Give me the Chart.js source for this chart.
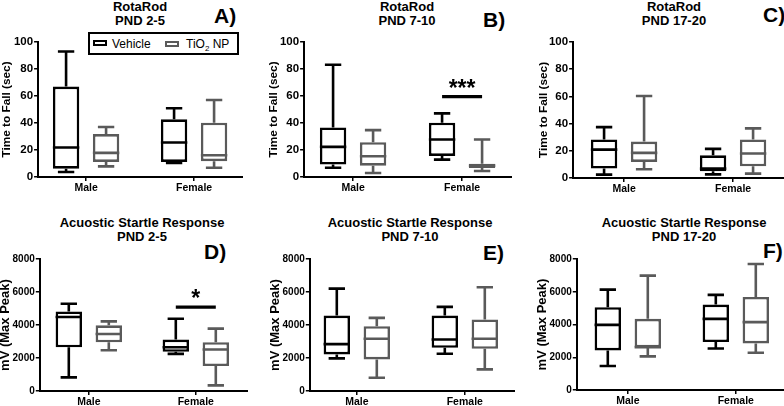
<!DOCTYPE html>
<html>
<head>
<meta charset="utf-8">
<script src="https://cdn.jsdelivr.net/npm/chart.js@4.4.1/dist/chart.umd.min.js"></script>
<style>
html,body{margin:0;padding:0;background:#fff;}
body{width:784px;height:406px;overflow:hidden;position:relative;font-family:"Liberation Sans",Arial,sans-serif;color:#000;}
canvas{position:absolute;}
.title{position:absolute;font-weight:bold;font-size:13px;line-height:14px;text-align:center;white-space:nowrap;transform:translateX(-50%);}
.letter{position:absolute;font-weight:bold;font-size:21px;line-height:21px;}
.legend{position:absolute;border:2.5px solid #000;box-sizing:border-box;background:#fff;}
.legend .ico{position:absolute;box-sizing:border-box;width:14px;height:6px;}
.legend .txt{position:absolute;font-size:12px;line-height:12px;white-space:nowrap;}
</style>
</head>
<body>
<div class="title" style="left:140px;top:-0.5px;">RotaRod<br>PND 2-5</div>
<div class="title" style="left:407px;top:-0.5px;">RotaRod<br>PND 7-10</div>
<div class="title" style="left:674px;top:-0.5px;">RotaRod<br>PND 17-20</div>
<div class="title" style="left:142px;top:216px;">Acuostic Startle Response<br>PND 2-5</div>
<div class="title" style="left:410px;top:216px;">Acuostic Startle Response<br>PND 7-10</div>
<div class="title" style="left:684px;top:216px;">Acuostic Startle Response<br>PND 17-20</div>
<div class="letter" style="left:214px;top:5px;">A)</div>
<div class="letter" style="left:483px;top:9px;">B)</div>
<div class="letter" style="left:763px;top:4px;">C)</div>
<div class="letter" style="left:204px;top:241px;">D)</div>
<div class="letter" style="left:483px;top:242px;">E)</div>
<div class="letter" style="left:763px;top:240px;">F)</div>
<div class="legend" id="legend" style="left:88px;top:32px;width:151px;height:23px;">
  <div class="ico" id="ico0" style="left:3px;top:6px;border:2.5px solid #000;"></div>
  <div class="txt" id="txt0" style="left:22px;top:3.5px;"></div>
  <div class="ico" id="ico1" style="left:75px;top:6.5px;border:2px solid #5a5a5a;"></div>
  <div class="txt" id="txt1" style="left:96px;top:3.5px;"></div>
</div>
<script>
// ---------- DATA ----------
const categories = ['Male', 'Female'];
const seriesNames = ['Vehicle', 'TiO<sub style="font-size:8px;line-height:0">2</sub> NP'];
// each entry: [min, Q1, median, Q3, max]  (Male, Female)
const rotarodPND2_5_vehicle  = [[3.7, 6.2, 21.8, 67.0, 93.0], [10.4, 11.2, 25.6, 42.7, 50.9]];
const rotarodPND2_5_tio2     = [[7.9, 11.2, 17.9, 31.8, 37.0], [6.9, 11.7, 16.1, 40.2, 57.0]];
const rotarodPND7_10_vehicle = [[6.9, 9.2, 22.3, 36.7, 83.1], [12.9, 15.6, 27.8, 40.2, 47.1]];
const rotarodPND7_10_tio2    = [[3.0, 8.4, 15.4, 25.8, 34.7], [4.5, 6.7, 8.4, 9.9, 27.8]];
const rotarodPND17_20_vehicle= [[2.5, 6.9, 20.9, 28.3, 37.4], [2.7, 4.9, 6.9, 16.7, 21.4]];
const rotarodPND17_20_tio2   = [[6.4, 11.8, 18.5, 26.8, 60.3], [3.2, 8.6, 18.0, 28.3, 36.5]];
const startlePND2_5_vehicle  = [[824, 2653, 4482, 4824, 5286], [2251, 2372, 2653, 3116, 4382]];
const startlePND2_5_tio2     = [[2472, 2955, 3457, 3980, 4221], [342, 1508, 2513, 2955, 3779]];
const startlePND7_10_vehicle = [[1975, 2217, 2841, 4574, 6207], [2257, 2620, 3123, 4574, 5098]];
const startlePND7_10_tio2    = [[806, 1914, 3164, 3930, 4433], [1310, 2559, 3164, 4332, 6287]];
const startlePND17_20_vehicle= [[1462, 2416, 3980, 5056, 6132], [2538, 2924, 4345, 5218, 5807]];
const startlePND17_20_tio2   = [[2051, 2600, 2620, 4345, 6985], [2274, 2843, 4142, 5685, 7695]];
const rotarodTicks = [0, 20, 40, 60, 80, 100];
const startleTicks = [0, 2000, 4000, 6000, 8000];
// significance: [category index, value, label]
const sigRotarodPND7_10 = [1, 59.6, '***'];
const sigStartlePND2_5  = [1, 5085, '*'];

// ---------- LAYOUT ----------
document.getElementById('txt0').innerHTML = seriesNames[0];
document.getElementById('txt1').innerHTML = seriesNames[1];
const FONT = '"Liberation Sans", Arial, sans-serif';
Chart.defaults.font.family = FONT;
Chart.defaults.color = '#000';
const COLORS = ['#000000', '#5a5a5a'];

const fontTop = {ticks: 11.5, title: 11.8};
const fontBot = {ticks: 10, title: 13};
const panels = [
  {veh: rotarodPND2_5_vehicle, tio: rotarodPND2_5_tio2, ticks: rotarodTicks, yTitle: 'Time to Fall (sec)', area: {l:38, r:243, t:42, b:177}, cats: [86, 194], f: fontTop, ytd: 31, sig: null},
  {veh: rotarodPND7_10_vehicle, tio: rotarodPND7_10_tio2, ticks: rotarodTicks, yTitle: 'Time to Fall (sec)', area: {l:304, r:512, t:42, b:177}, cats: [353, 462], f: fontTop, ytd: 30, sig: sigRotarodPND7_10},
  {veh: rotarodPND17_20_vehicle, tio: rotarodPND17_20_tio2, ticks: rotarodTicks, yTitle: 'Time to Fall (sec)', area: {l:573, r:786, t:42, b:177.5}, cats: [624, 733], f: fontTop, ytd: 29, sig: null},
  {veh: startlePND2_5_vehicle, tio: startlePND2_5_tio2, ticks: startleTicks, yTitle: 'mV (Max Peak)', area: {l:40, r:248, t:259, b:391}, cats: [89, 196], f: fontBot, ytd: 34, sig: sigStartlePND2_5},
  {veh: startlePND7_10_vehicle, tio: startlePND7_10_tio2, ticks: startleTicks, yTitle: 'mV (Max Peak)', area: {l:310, r:515, t:259, b:391}, cats: [357, 465], f: fontBot, ytd: 34, sig: null},
  {veh: startlePND17_20_vehicle, tio: startlePND17_20_tio2, ticks: startleTicks, yTitle: 'mV (Max Peak)', area: {l:577, r:790, t:259, b:390}, cats: [628, 736], f: fontBot, ytd: 34, sig: null}
];

function makePanel(p, idx) {
  const topPad = 10, xH = 24;
  const titleLH = p.f.title * 1.2;
  const yW = p.ytd + titleLH / 2;
  const cx = p.area.l - yW, cy = p.area.t - topPad;
  const cw = Math.round(p.area.r - cx), ch = Math.round(p.area.b + xH - cy);
  const cv = document.createElement('canvas');
  cv.width = cw; cv.height = ch;
  cv.style.left = cx + 'px'; cv.style.top = cy + 'px';
  cv.style.width = cw + 'px'; cv.style.height = ch + 'px';
  document.body.insertBefore(cv, document.getElementById('legend'));
  const unit = p.cats[1] - p.cats[0];
  const xmin = (p.area.l - p.cats[0]) / unit;
  const xmax = (cx + cw - p.cats[0]) / unit;
  const stats = [p.veh, p.tio];
  const mk = (arr, di) => ({
    label: ['Vehicle', 'TiO2 NP'][di],
    data: arr.map((s, i) => ({x: i, y: [s[1], s[3]]})),
    borderColor: COLORS[di],
    backgroundColor: 'rgba(255,255,255,1)',
    borderWidth: 2.6,
    borderSkipped: false,
    categoryPercentage: 80 / unit,
    barPercentage: 0.66
  });
  const plugin = {
    id: 'boxWhiskers' + idx,
    afterDatasetsDraw(chart) {
      const ctx = chart.ctx, ys = chart.scales.y;
      stats.forEach((arr, di) => {
        const meta = chart.getDatasetMeta(di);
        meta.data.forEach((bar, j) => {
          const s = arr[j];
          const x = bar.x, w = bar.width, cap = w * 0.62;
          const py = s.map(v => ys.getPixelForValue(v));
          ctx.save();
          ctx.strokeStyle = COLORS[di];
          ctx.lineWidth = 2.6;
          ctx.beginPath();
          ctx.moveTo(x, py[3]); ctx.lineTo(x, py[4]);
          ctx.moveTo(x - cap / 2, py[4]); ctx.lineTo(x + cap / 2, py[4]);
          ctx.moveTo(x, py[1]); ctx.lineTo(x, py[0]);
          ctx.moveTo(x - cap / 2, py[0]); ctx.lineTo(x + cap / 2, py[0]);
          ctx.moveTo(x - w / 2, py[2]); ctx.lineTo(x + w / 2, py[2]);
          ctx.stroke();
          ctx.restore();
        });
      });
      if (p.sig) {
        const [ci, val, label] = p.sig;
        const x1 = chart.getDatasetMeta(0).data[ci].x;
        const x2 = chart.getDatasetMeta(1).data[ci].x;
        const y = ys.getPixelForValue(val);
        ctx.save();
        ctx.strokeStyle = '#000'; ctx.lineWidth = 3.2;
        ctx.beginPath(); ctx.moveTo(x1, y); ctx.lineTo(x2, y); ctx.stroke();
        ctx.fillStyle = '#000';
        ctx.font = 'bold 23px ' + FONT;
        ctx.textAlign = 'center'; ctx.textBaseline = 'alphabetic';
        ctx.fillText(label, (x1 + x2) / 2, y - 1);
        ctx.restore();
      }
    }
  };
  new Chart(cv, {
    type: 'bar',
    data: {datasets: [mk(p.veh, 0), mk(p.tio, 1)]},
    options: {
      responsive: false, animation: false, devicePixelRatio: 1,
      layout: {padding: {top: topPad, left: 0, right: 0, bottom: 0}},
      plugins: {legend: {display: false}, tooltip: {enabled: false}, title: {display: false}},
      scales: {
        x: {
          type: 'linear', offset: false, min: xmin, max: xmax,
          afterBuildTicks: s => { s.ticks = categories.map((c, i) => ({value: i})); },
          afterFit: s => { s.height = xH; },
          ticks: {callback: v => categories[v] ?? '', color: '#000', font: {size: 10.5, weight: 'bold'}, padding: 1, maxRotation: 0, autoSkip: false},
          grid: {display: true, drawOnChartArea: false, drawTicks: true, tickLength: 4, color: '#000', lineWidth: 1.5, offset: false},
          border: {display: true, color: '#000', width: 2}
        },
        y: {
          min: p.ticks[0], max: p.ticks[p.ticks.length - 1],
          afterBuildTicks: s => { s.ticks = p.ticks.map(v => ({value: v})); },
          afterFit: s => { s.width = yW; },
          ticks: {color: '#000', font: {size: p.f.ticks, weight: 'bold'}, padding: 1, callback: v => String(v)},
          grid: {display: true, drawOnChartArea: false, drawTicks: true, tickLength: 4, color: '#000', lineWidth: 1.5},
          border: {display: true, color: '#000', width: 2},
          title: {display: true, text: p.yTitle, color: '#000', font: {size: p.f.title, weight: 'bold'}, padding: 0}
        }
      }
    },
    plugins: [plugin]
  });
}
panels.forEach(makePanel);
</script>
</body>
</html>
